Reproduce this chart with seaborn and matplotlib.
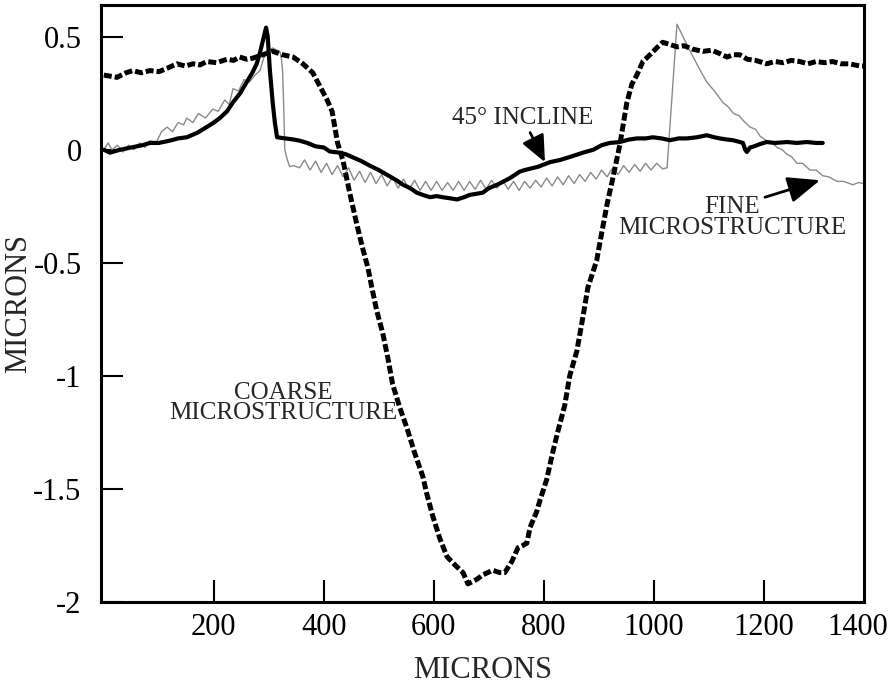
import matplotlib
matplotlib.use("Agg")
import matplotlib.pyplot as plt
import seaborn as sns
import pandas as pd

# ---- data ----
coarse_x = [0, 24, 40, 53, 68, 84, 100, 115, 133, 148, 162, 175, 187, 205, 224, 236, 247, 260, 271, 289,
            307, 325, 344, 362, 380, 393, 405, 415, 420, 425, 435, 447, 460, 471, 480, 487, 496, 507, 516, 525,
            538, 551, 565, 580, 587, 598, 611, 624, 640, 653, 662, 678, 689, 707, 720, 729, 742, 753, 762, 769,
            775, 787, 793, 805, 816, 825, 838, 847, 860, 871, 880, 896, 905, 915, 925, 938, 951, 960, 969, 980,
            993, 1005, 1016, 1030, 1042, 1055, 1070, 1089, 1105, 1120, 1133, 1145, 1156, 1170, 1185, 1205, 1220,
            1235, 1250, 1265, 1280, 1295, 1310, 1325, 1340, 1355, 1375, 1382]
coarse_y = [0.33, 0.32, 0.34, 0.35, 0.34, 0.35, 0.345, 0.36, 0.38, 0.37, 0.38, 0.375, 0.39, 0.385, 0.40, 0.395,
            0.41, 0.40, 0.405, 0.42, 0.435, 0.42, 0.41, 0.38, 0.34, 0.28, 0.225, 0.17, 0.10, 0.03, -0.05, -0.19,
            -0.33, -0.44, -0.52, -0.606, -0.71, -0.81, -0.916, -1.036, -1.14, -1.23, -1.34, -1.445, -1.52, -1.62,
            -1.72, -1.80, -1.84, -1.87, -1.92, -1.90, -1.88, -1.86, -1.87, -1.87, -1.82, -1.76, -1.75, -1.74,
            -1.67, -1.60, -1.55, -1.46, -1.34, -1.25, -1.13, -1.00, -0.89, -0.74, -0.61, -0.49, -0.37, -0.24,
            -0.13, 0.02, 0.21, 0.29, 0.33, 0.39, 0.42, 0.45, 0.475, 0.465, 0.455, 0.46, 0.445, 0.435, 0.44, 0.425,
            0.41, 0.42, 0.42, 0.40, 0.395, 0.38, 0.39, 0.385, 0.395, 0.39, 0.38, 0.39, 0.385, 0.39, 0.38, 0.38,
            0.37, 0.37]

incline_x = [0, 11, 30, 50, 70, 84, 100, 120, 135, 151, 170, 187, 200, 211, 224, 235, 248, 260, 270, 278, 284,
             289, 295, 298, 302, 307, 311, 315, 330, 345, 356, 370, 385, 400, 411, 429, 440, 453, 468, 484, 500,
             520, 532, 544, 557, 569, 580, 593, 605, 616, 630, 642, 655, 665, 677, 689, 700, 715, 727, 738, 748,
             756, 765, 775, 790, 811, 830, 850, 871, 890, 905, 920, 938, 955, 969, 985, 998, 1014, 1029, 1045,
             1060, 1078, 1096, 1110, 1120, 1133, 1144, 1155, 1162, 1166, 1169, 1175, 1180, 1193, 1205, 1220,
             1242, 1260, 1278, 1295, 1307]
incline_y = [0.0, -0.013, 0.0, 0.01, 0.02, 0.03, 0.03, 0.04, 0.05, 0.055, 0.075, 0.10, 0.12, 0.14, 0.17, 0.21,
             0.25, 0.30, 0.34, 0.38, 0.43, 0.48, 0.54, 0.50, 0.35, 0.21, 0.12, 0.055, 0.05, 0.045, 0.04, 0.03,
             0.015, 0.01, -0.008, -0.013, -0.02, -0.034, -0.05, -0.071, -0.09, -0.118, -0.135, -0.155, -0.17,
             -0.19, -0.20, -0.21, -0.205, -0.21, -0.215, -0.22, -0.21, -0.20, -0.195, -0.19, -0.17, -0.155,
             -0.14, -0.126, -0.11, -0.097, -0.09, -0.084, -0.075, -0.055, -0.045, -0.03, -0.013, 0.0, 0.02,
             0.03, 0.034, 0.045, 0.05, 0.05, 0.055, 0.05, 0.042, 0.05, 0.05, 0.055, 0.064, 0.055, 0.05, 0.045,
             0.042, 0.035, 0.03, 0.0, -0.01, 0.01, 0.013, 0.025, 0.034, 0.03, 0.034, 0.03, 0.034, 0.03, 0.03]

fine_x = [0, 8, 15, 25, 35, 45, 55, 65, 75, 84, 95, 105, 115, 125, 135, 145, 151, 162, 172, 185, 198, 208, 220,
          228, 235, 245, 255, 265, 275, 284, 290, 296, 307, 315, 320, 323, 325, 327, 329, 333, 338, 345, 356,
          365, 375, 385, 395, 405, 415, 425, 435, 445, 455, 465, 475, 485, 495, 505, 515, 525, 535, 545, 555,
          565, 575, 585, 595, 605, 615, 625, 635, 645, 655, 665, 675, 685, 695, 705, 715, 725, 735, 745, 755,
          765, 775, 785, 795, 805, 815, 825, 835, 845, 855, 865, 875, 885, 895, 905, 915, 925, 935, 945, 955,
          965, 975, 985, 995, 1005, 1016, 1024, 1042, 1053, 1065, 1080, 1096, 1110, 1125, 1135, 1145, 1155,
          1162, 1175, 1185, 1193, 1205, 1215, 1224, 1233, 1242, 1250, 1260, 1270, 1284, 1295, 1307, 1318,
          1333, 1345, 1362, 1372, 1382]
fine_y = [0.0, 0.03, 0.0, 0.02, -0.01, 0.02, 0.0, 0.03, 0.01, 0.04, 0.03, 0.08, 0.10, 0.08, 0.12, 0.11, 0.14,
          0.12, 0.16, 0.14, 0.18, 0.17, 0.22, 0.20, 0.27, 0.26, 0.31, 0.30, 0.33, 0.35, 0.40, 0.435, 0.45, 0.44,
          0.435, 0.40, 0.35, 0.20, 0.0, -0.04, -0.075, -0.07, -0.08, -0.045, -0.09, -0.05, -0.10, -0.06, -0.11,
          -0.07, -0.12, -0.08, -0.135, -0.095, -0.145, -0.10, -0.15, -0.11, -0.16, -0.12, -0.17, -0.13, -0.175,
          -0.135, -0.18, -0.14, -0.18, -0.14, -0.18, -0.145, -0.18, -0.14, -0.18, -0.14, -0.175, -0.135,
          -0.175, -0.135, -0.17, -0.135, -0.175, -0.14, -0.18, -0.14, -0.17, -0.135, -0.165, -0.125, -0.16,
          -0.12, -0.155, -0.115, -0.15, -0.11, -0.14, -0.10, -0.13, -0.09, -0.12, -0.08, -0.11, -0.07, -0.10,
          -0.065, -0.095, -0.06, -0.09, -0.06, -0.085, -0.08, 0.555, 0.50, 0.44, 0.37, 0.30, 0.26, 0.21, 0.19,
          0.16, 0.15, 0.13, 0.10, 0.09, 0.06, 0.04, 0.03, 0.01, 0.0, -0.02, -0.03, -0.06, -0.06, -0.09, -0.09,
          -0.115, -0.12, -0.14, -0.14, -0.155, -0.145, -0.15]

x_ticks = [200, 400, 600, 800, 1000, 1200]
x_tick_labels = ["200", "400", "600", "800", "1000", "1200"]
y_ticks = [-2, -1.5, -1, -0.5, 0, 0.5]
y_tick_labels = ["-2", "-1.5", "-1", "-0.5", "0", "0.5"]

# ---- style ----
sns.set_style("ticks")
plt.rcParams["font.family"] = ["Liberation Serif", "DejaVu Serif"]
plt.rcParams["axes.unicode_minus"] = False

fig = plt.figure(figsize=(8.91, 6.85), dpi=100)
ax = fig.add_axes([0.1134, 0.1212, 0.8563, 0.8715])

df_fine = pd.DataFrame({"x": fine_x, "y": fine_y})
df_coarse = pd.DataFrame({"x": coarse_x, "y": coarse_y})
df_incl = pd.DataFrame({"x": incline_x, "y": incline_y})

sns.lineplot(data=df_fine, x="x", y="y", ax=ax, color="#8a8a8a", linewidth=1.0,
             sort=False, estimator=None, solid_joinstyle="round")
sns.lineplot(data=df_incl, x="x", y="y", ax=ax, color="black", linewidth=3.0,
             sort=False, estimator=None, solid_joinstyle="round")
sns.lineplot(data=df_coarse, x="x", y="y", ax=ax, color="black", linewidth=3.6,
             sort=False, estimator=None, linestyle=(0, (1.6, 0.6)))

ax.set_xlim(-5, 1382)
ax.set_ylim(-2, 0.64)

ax.set_xticks(x_ticks + [1371])
ax.set_xticklabels(x_tick_labels + ["1400"])
ax.xaxis.get_major_ticks()[-1].tick1line.set_visible(False)
ax.set_yticks(y_ticks)
ax.set_yticklabels(y_tick_labels)

ax.tick_params(axis="both", direction="in", length=16, width=1.5, labelsize=22, colors="black")
ax.tick_params(axis="x", pad=8)
ax.tick_params(axis="y", pad=14)

for s in ax.spines.values():
    s.set_visible(True)
    s.set_linewidth(2.2)
    s.set_color("black")

ax.set_xlabel("MICRONS", fontsize=22, labelpad=10)
ax.set_ylabel("MICRONS", fontsize=22, labelpad=0)

# ---- annotations ----
ax.text(327, -1.12, "COARSE\nMICROSTRUCTURE", fontsize=18, ha="center", va="center",
        linespacing=0.9)
ax.text(762, 0.14, "45° INCLINE", fontsize=18, ha="center", va="center")
ax.text(1142, -0.30, "FINE\nMICROSTRUCTURE", fontsize=18, ha="center", va="center",
        linespacing=0.9)

ax.annotate("", xy=(802, -0.055), xytext=(775, 0.076),
            arrowprops=dict(arrowstyle="-|>,head_length=0.9,head_width=0.4",
                            mutation_scale=18, lw=2, color="black", shrinkA=0, shrinkB=0))
ax.annotate("", xy=(1302, -0.135), xytext=(1202, -0.21),
            arrowprops=dict(arrowstyle="-|>,head_length=1.1,head_width=0.45",
                            mutation_scale=18, lw=2, color="black", shrinkA=0, shrinkB=0))

fig.savefig("out.png", dpi=100)
